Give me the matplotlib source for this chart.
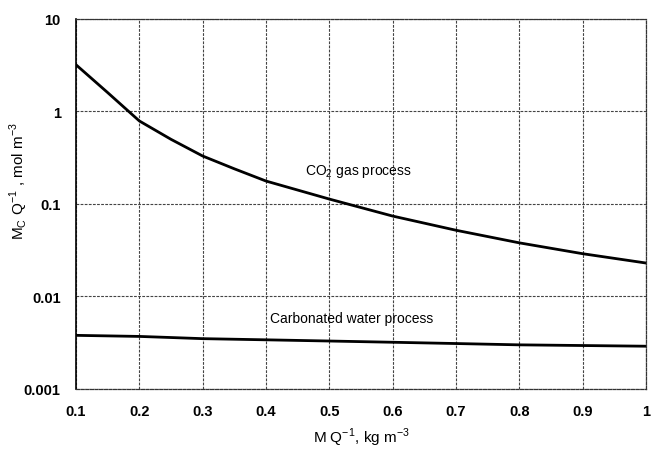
import matplotlib
matplotlib.use("Agg")
import matplotlib.pyplot as plt

# mass loading M/Q and the two process curves
mq = [0.1, 0.15, 0.2, 0.25, 0.3, 0.35, 0.4, 0.5, 0.6, 0.7, 0.8, 0.9, 1.0]
co2_gas = [3.2, 1.6, 0.79, 0.50, 0.33, 0.24, 0.177, 0.113, 0.074, 0.052, 0.038, 0.029, 0.023]
carb_water = [0.0038, 0.00375, 0.0037, 0.0036, 0.0035, 0.00345, 0.0034, 0.0033,
              0.0032, 0.0031, 0.0030, 0.00295, 0.0029]

x_ticks = [0.1, 0.2, 0.3, 0.4, 0.5, 0.6, 0.7, 0.8, 0.9, 1.0]
x_labels = ["0.1", "0.2", "0.3", "0.4", "0.5", "0.6", "0.7", "0.8", "0.9", "1"]
y_ticks = [0.001, 0.01, 0.1, 1, 10]
y_labels = ["0.001", "0.01", "0.1", "1", "10"]

plt.rcParams["font.family"] = ["Liberation Sans", "DejaVu Sans"]

fig = plt.figure(figsize=(6.54, 4.52), dpi=100)
ax = fig.add_axes([0.1162, 0.1372, 0.8716, 0.8186])

ax.set_yscale("log")
ax.set_xlim(0.1, 1.0)
ax.set_ylim(0.001, 10)

ax.plot(mq, co2_gas, color="black", lw=2.0)
ax.plot(mq, carb_water, color="black", lw=2.0)

ax.set_xticks(x_ticks)
ax.set_xticklabels(x_labels)
ax.set_yticks(y_ticks)
ax.set_yticklabels(y_labels)
ax.minorticks_off()
ax.tick_params(length=0, pad=11, labelsize=10.5)
for lab in ax.get_xticklabels() + ax.get_yticklabels():
    lab.set_fontweight("bold")

ax.grid(True, which="major", color="#444444", ls=(0, (2.5, 1.2)), lw=0.8)
for side in ["top", "right", "bottom"]:
    ax.spines[side].set_linestyle((0, (2.5, 1.2)))
    ax.spines[side].set_color("#333333")
    ax.spines[side].set_linewidth(0.9)
ax.spines["left"].set_linewidth(1.2)

ax.set_xlabel(r"M Q$^{\mathregular{-1}}$, kg m$^{\mathregular{-3}}$", fontsize=11)
ax.xaxis.set_label_coords(0.5, -0.1)
ax.set_ylabel(r"M$_{\mathregular{C}}$ Q$^{\mathregular{-1}}$ , mol m$^{\mathregular{-3}}$", fontsize=11)
ax.yaxis.set_label_coords(-0.081, 0.565)

ax.text(0.462, 0.23, r"CO$_{\mathregular{2}}$ gas process", fontsize=10, va="center", ha="left")
ax.text(0.406, 0.0059, "Carbonated water process", fontsize=10, va="center", ha="left")

fig.savefig("out.png", dpi=100)
